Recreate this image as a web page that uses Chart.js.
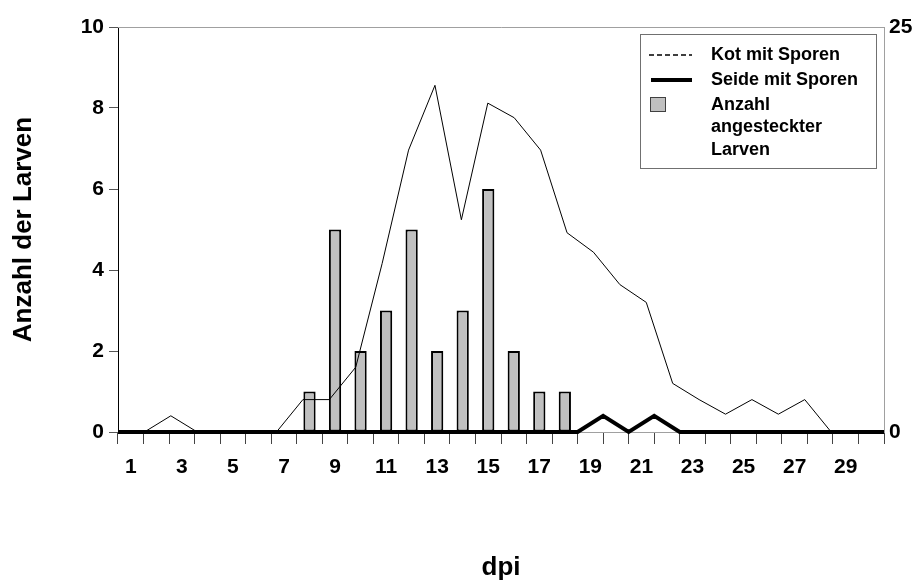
<!DOCTYPE html>
<html>
<head>
<meta charset="utf-8">
<script src="https://cdn.jsdelivr.net/npm/chart.js@4/dist/chart.umd.min.js"></script>
<style>
  html, body { margin: 0; padding: 0; background: #ffffff; }
  #wrap { width: 920px; height: 580px; position: relative; }
</style>
</head>
<body>
<div id="wrap"><canvas id="c" width="920" height="580"></canvas></div>
<script>
// ---- data ----
const days = ['1','2','3','4','5','6','7','8','9','10','11','12','13','14','15','16','17','18','19','20','21','22','23','24','25','26','27','28','29','30'];
const infectedLarvae = [0,0,0,0,0,0,0,1,5,2,3,5,2,3,6,2,1,1,0,0,0,0,0,0,0,0,0,0,0,0];
const kotSteps = ['1','2','3','4','5','6','7','8','9','10','11','12','13','14','15','16','17','18','19','20','21','22','23','24','25','26','27','28','29','30'];
const kotMitSporen = [0,0,1,0,0,0,0,2,2,4,10.4,17.4,21.4,13.1,20.3,19.4,17.4,12.3,11.1,9.1,8,3,2,1.1,2,1.1,2,0,0,0];
const seideSteps = ['0','1','2','3','4','5','6','7','8','9','10','11','12','13','14','15','16','17','18','19','20','21','22','23','24','25','26','27','28','29','30'];
const seideMitSporen = [0,0,0,0,0,0,0,0,0,0,0,0,0,0,0,0,0,0,0,1,0,1,0,0,0,0,0,0,0,0,0];
const leftTicks = [0, 2, 4, 6, 8, 10];
const rightTicks = [0, 25];
const seriesNames = ['Kot mit Sporen', 'Seide mit Sporen', 'Anzahl angesteckter Larven'];
const xTitle = 'dpi';
const yTitle = 'Anzahl der Larven';

const FONT = "'Liberation Sans', Arial, sans-serif";

const framePlugin = {
  id: 'frame',
  beforeDatasetsDraw(chart) {
    const {ctx, chartArea: a} = chart;
    ctx.save();
    ctx.strokeStyle = '#a0a0a0';
    ctx.lineWidth = 1;
    ctx.beginPath();
    ctx.moveTo(a.left, a.top + 0.5);
    ctx.lineTo(a.right + 0.5, a.top + 0.5);
    ctx.lineTo(a.right + 0.5, a.bottom);
    ctx.stroke();
    ctx.restore();
  }
};

const legendPlugin = {
  id: 'boxLegend',
  afterDraw(chart) {
    const {ctx, chartArea: a} = chart;
    const x0 = a.right - 244, y0 = a.top + 7, w = 236, h = 134;
    ctx.save();
    ctx.fillStyle = '#ffffff';
    ctx.fillRect(x0, y0, w, h);
    ctx.strokeStyle = '#707070';
    ctx.lineWidth = 1;
    ctx.strokeRect(x0 + 0.5, y0 + 0.5, w, h);
    ctx.font = "bold 18px " + FONT;
    ctx.fillStyle = '#000';
    ctx.textBaseline = 'middle';
    const tx = x0 + 71;
    // entry 1: dashed thin line
    let y = y0 + 21;
    ctx.strokeStyle = '#000';
    ctx.lineWidth = 1.5;
    ctx.setLineDash([5, 3]);
    ctx.beginPath(); ctx.moveTo(x0 + 9, y); ctx.lineTo(x0 + 52, y); ctx.stroke();
    ctx.setLineDash([]);
    ctx.fillText(chart.data.datasets[0].label, tx, y);
    // entry 2: thick line
    y = y0 + 46;
    ctx.lineWidth = 4;
    ctx.beginPath(); ctx.moveTo(x0 + 11, y); ctx.lineTo(x0 + 52, y); ctx.stroke();
    ctx.fillText(chart.data.datasets[1].label, tx, y);
    // entry 3: box, wrapped text
    y = y0 + 71;
    ctx.fillStyle = '#c0c0c0';
    ctx.fillRect(x0 + 10, y - 8, 16, 15);
    ctx.strokeStyle = '#404040';
    ctx.lineWidth = 1;
    ctx.strokeRect(x0 + 10.5, y - 7.5, 15, 14);
    ctx.fillStyle = '#000';
    const words = chart.data.datasets[2].label.split(' ');
    words.forEach((wd, i) => ctx.fillText(wd, tx, y + i * 22.5));
    ctx.restore();
  }
};

new Chart(document.getElementById('c'), {
  type: 'bar',
  data: {
    labels: days,
    datasets: [
      {
        type: 'line',
        label: seriesNames[0],
        data: kotMitSporen,
        xAxisID: 'xKot',
        yAxisID: 'y2',
        borderColor: '#000',
        borderWidth: 1,
        pointRadius: 0,
        tension: 0,
        clip: false
      },
      {
        type: 'line',
        label: seriesNames[1],
        data: seideMitSporen,
        xAxisID: 'xSeide',
        yAxisID: 'y2',
        borderColor: '#000',
        borderWidth: 4,
        pointRadius: 0,
        tension: 0,
        borderJoinStyle: 'miter',
        clip: false
      },
      {
        type: 'bar',
        label: seriesNames[2],
        data: infectedLarvae,
        xAxisID: 'x',
        yAxisID: 'y',
        backgroundColor: '#c0c0c0',
        borderColor: '#000',
        borderWidth: 2,
        borderSkipped: false,
        grouped: false,
        categoryPercentage: 1,
        barPercentage: 0.48
      }
    ]
  },
  options: {
    responsive: false,
    animation: false,
    devicePixelRatio: 1,
    layout: { padding: { top: 27, left: 0, right: 0, bottom: 0 } },
    plugins: { legend: { display: false }, tooltip: { enabled: false } },
    scales: {
      x: {
        type: 'category',
        position: 'bottom',
        offset: true,
        afterFit(s) { s.height = 148; },
        grid: { display: true, drawOnChartArea: false, offset: true, tickLength: 12, color: '#444', lineWidth: 1 },
        border: { display: true, color: '#a0a0a0', width: 1 },
        ticks: {
          autoSkip: false,
          maxRotation: 0,
          padding: 11,
          color: '#000',
          font: { family: FONT, size: 21, weight: 'bold' },
          callback(v, i) { return i % 2 === 0 ? days[i] : ''; }
        },
        title: {
          display: true,
          text: xTitle,
          color: '#000',
          font: { family: FONT, size: 26, weight: 'bold' },
          padding: { top: 0, bottom: -3 }
        }
      },
      xKot: {
        type: 'category',
        labels: kotSteps,
        offset: false,
        display: false
      },
      xSeide: {
        type: 'category',
        labels: seideSteps,
        offset: false,
        display: false
      },
      y: {
        type: 'linear',
        position: 'left',
        min: leftTicks[0],
        max: leftTicks[leftTicks.length - 1],
        afterFit(s) { s.width = 118; },
        afterBuildTicks(s) { s.ticks = leftTicks.map(v => ({ value: v })); },
        grid: { drawOnChartArea: false, tickLength: 9, color: '#555' },
        border: { display: true, color: '#000', width: 1 },
        ticks: {
          padding: 5,
          color: '#000',
          font: { family: FONT, size: 21, weight: 'bold' }
        },
        title: {
          display: true,
          text: yTitle,
          color: '#000',
          font: { family: FONT, size: 26, weight: 'bold' },
          padding: { top: 8, bottom: 0 }
        }
      },
      y2: {
        type: 'linear',
        position: 'right',
        min: rightTicks[0],
        max: rightTicks[rightTicks.length - 1],
        afterFit(s) { s.width = 36; },
        afterBuildTicks(s) { s.ticks = rightTicks.map(v => ({ value: v })); },
        grid: { drawOnChartArea: false, drawTicks: false },
        border: { display: true, color: '#a0a0a0', width: 1 },
        ticks: {
          padding: 5,
          color: '#000',
          font: { family: FONT, size: 21, weight: 'bold' }
        }
      }
    }
  },
  plugins: [framePlugin, legendPlugin]
});
</script>
</body>
</html>
